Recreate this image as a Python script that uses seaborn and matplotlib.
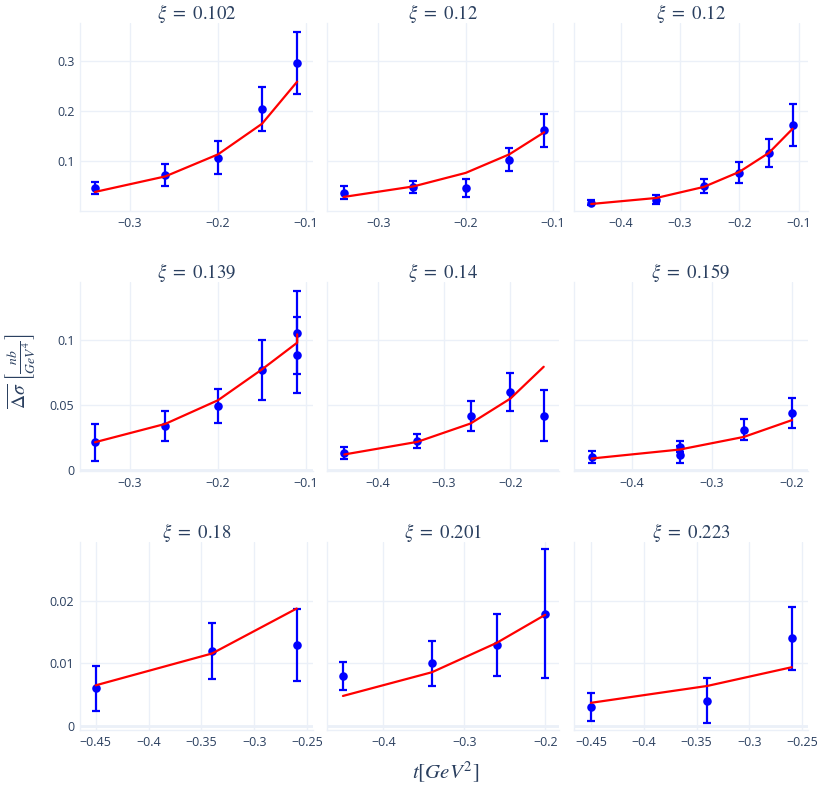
import matplotlib
matplotlib.use("Agg")
import matplotlib.pyplot as plt
import matplotlib.ticker as mticker
import pandas as pd
import seaborn as sns

# panel titles (xi bins), row-major 3x3
xi_values = ["0.102", "0.12", "0.12", "0.139", "0.14", "0.159", "0.18", "0.201", "0.223"]

# t values [GeV^2] per panel
t_values = [
    [-0.34, -0.26, -0.2, -0.15, -0.11],
    [-0.34, -0.26, -0.2, -0.15, -0.11],
    [-0.45, -0.34, -0.26, -0.2, -0.15, -0.11],
    [-0.34, -0.26, -0.2, -0.15, -0.11, -0.11],
    [-0.45, -0.34, -0.26, -0.2, -0.15],
    [-0.45, -0.34, -0.34, -0.26, -0.2],
    [-0.45, -0.34, -0.26],
    [-0.45, -0.34, -0.26, -0.2],
    [-0.45, -0.34, -0.26],
]

# measured cross section [nb/GeV^4]
dsigma = [
    [0.047, 0.073, 0.107, 0.205, 0.297],
    [0.037, 0.049, 0.047, 0.103, 0.162],
    [0.017, 0.023, 0.051, 0.077, 0.117, 0.173],
    [0.0213, 0.0341, 0.0492, 0.0769, 0.1056, 0.0887],
    [0.0133, 0.0223, 0.042, 0.060, 0.042],
    [0.010, 0.018, 0.012, 0.031, 0.0441],
    [0.006, 0.012, 0.013],
    [0.008, 0.010, 0.013, 0.018],
    [0.003, 0.004, 0.014],
]

# symmetric errors
dsigma_err = [
    [0.012, 0.022, 0.033, 0.044, 0.062],
    [0.013, 0.012, 0.018, 0.023, 0.033],
    [0.005, 0.009, 0.014, 0.021, 0.028, 0.042],
    [0.0144, 0.0115, 0.0133, 0.023, 0.032, 0.029],
    [0.0045, 0.0055, 0.0115, 0.0145, 0.0193],
    [0.0045, 0.0042, 0.0065, 0.008, 0.0115],
    [0.0036, 0.0045, 0.0058],
    [0.0022, 0.0036, 0.005, 0.0103],
    [0.0022, 0.0036, 0.005],
]

# model curve evaluated at the same t values
model = [
    [0.039, 0.070, 0.114, 0.175, 0.259],
    [0.029, 0.050, 0.077, 0.114, 0.158],
    [0.015, 0.027, 0.049, 0.079, 0.117, 0.165],
    [0.0215, 0.0356, 0.0538, 0.0775, 0.098, 0.1044],
    [0.0121, 0.0218, 0.0359, 0.0551, 0.0795],
    [0.009, 0.0159, 0.0159, 0.0256, 0.0385],
    [0.0065, 0.0116, 0.0188],
    [0.0048, 0.0086, 0.0133, 0.0178],
    [0.0037, 0.0064, 0.0094],
]

row_ylims = [(0.001, 0.376), (-0.0006, 0.1444), (-0.00065, 0.0294)]
row_yticks = [[0.1, 0.2, 0.3], [0, 0.05, 0.1], [0, 0.01, 0.02]]
panel_xlims = [
    (-0.357, -0.092), (-0.359, -0.093), (-0.479, -0.084),
    (-0.357, -0.092), (-0.476, -0.127), (-0.472, -0.180),
    (-0.4648, -0.2446), (-0.4697, -0.183), (-0.466, -0.2446),
]
panel_xstep = [0.1, 0.1, 0.1, 0.1, 0.1, 0.1, 0.05, 0.1, 0.05]

W, H = 824, 787
col_px = [(80, 313), (327, 559), (574, 808)]
row_px = [(23, 211), (282.3, 471), (542.3, 730)]

sns.set_theme(style="white")
plt.rcParams["font.family"] = ["Open Sans", "DejaVu Sans"]
plt.rcParams["mathtext.fontset"] = "stix"
plt.rcParams["axes.unicode_minus"] = True

TXT = "#2a3f5f"
GRID = "#EBF0F8"


def fmt(v, pos):
    s = f"{round(v, 4):g}"
    return s.replace("-", "\u2212")


fig = plt.figure(figsize=(W / 100, H / 100), dpi=100)

for i in range(9):
    r, c = divmod(i, 3)
    x0, x1 = col_px[c]
    y0, y1 = row_px[r]
    ax = fig.add_axes([x0 / W, 1 - y1 / H, (x1 - x0) / W, (y1 - y0) / H])

    df = pd.DataFrame({"t": t_values[i], "dsigma": dsigma[i],
                       "err": dsigma_err[i], "model": model[i]})

    ax.errorbar(df["t"], df["dsigma"], yerr=df["err"], fmt="none",
                ecolor="blue", elinewidth=1.6, capsize=3.2, capthick=1.6, zorder=3)
    sns.scatterplot(data=df, x="t", y="dsigma", ax=ax, color="blue", s=38,
                    edgecolor="blue", linewidth=0, zorder=4)
    sns.lineplot(data=df, x="t", y="model", ax=ax, color="red", linewidth=1.6,
                 sort=False, estimator=None, zorder=5)

    ax.set_xlim(*panel_xlims[i])
    ax.set_ylim(*row_ylims[r])
    ax.xaxis.set_major_locator(mticker.MultipleLocator(panel_xstep[i]))
    ax.xaxis.set_major_formatter(mticker.FuncFormatter(fmt))
    ax.set_yticks(row_yticks[r])
    ax.yaxis.set_major_formatter(mticker.FuncFormatter(fmt))
    if c > 0:
        ax.tick_params(axis="y", labelleft=False)

    ax.grid(True, color=GRID, linewidth=1)
    ax.set_axisbelow(True)
    if row_ylims[r][0] < 0:
        ax.axhline(0, color=GRID, linewidth=2, zorder=1)
    for side in ["top", "right"]:
        ax.spines[side].set_visible(False)
    for side in ["left", "bottom"]:
        ax.spines[side].set_color(GRID)
        ax.spines[side].set_linewidth(1)
    ax.tick_params(length=0, labelsize=9, colors=TXT, pad=4)
    ax.set_xlabel("")
    ax.set_ylabel("")
    ax.set_title(rf"$\xi\ =\ {xi_values[i]}$", fontsize=13.5, color=TXT, pad=3)

fig.text(20 / W, 1 - 371 / H, r"$\overline{\Delta\sigma}\ \left[\frac{nb}{GeV^4}\right]$",
         rotation=90, ha="center", va="center", fontsize=14, color=TXT)
fig.text(446 / W, 1 - 772 / H, r"$t[GeV^2]$", ha="center", va="center",
         fontsize=15, color=TXT)

fig.savefig("out.png", dpi=100, facecolor="white")
